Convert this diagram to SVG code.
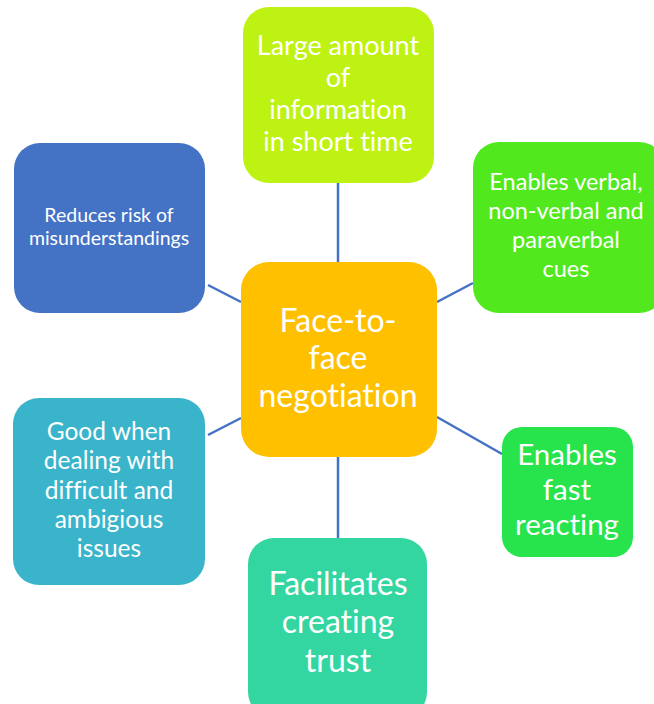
<svg xmlns="http://www.w3.org/2000/svg" width="654" height="704" viewBox="0 0 654 704">
  <style>
    .lbl { font-family: Lato, "Open Sans", "Liberation Sans", sans-serif; fill: #ffffff; text-anchor: middle; font-variant-ligatures: none; }
    .link { stroke: #4472C4; stroke-width: 2.5; fill: none; }
  </style>
  <rect width="654" height="704" fill="#ffffff"/>
  <g id="connectors">
    <line class="link" x1="338" y1="183" x2="338" y2="262"/>
    <line class="link" x1="338" y1="457" x2="338" y2="538"/>
    <line class="link" x1="208" y1="285" x2="241" y2="302"/>
    <line class="link" x1="437" y1="302" x2="473" y2="283"/>
    <line class="link" x1="208" y1="435" x2="241" y2="418"/>
    <line class="link" x1="437" y1="417" x2="502" y2="454"/>
  </g>
  <g id="node-center">
    <rect x="241" y="262" width="196" height="195" rx="28" fill="#FFC000"/>
    <text class="lbl" font-size="32"><tspan x="338" y="332">Face-to-</tspan><tspan x="338" y="369">face</tspan><tspan x="338" y="407">negotiation</tspan></text>
  </g>
  <g id="node-information">
    <rect x="243" y="7" width="191" height="176" rx="26" fill="#BEF212"/>
    <text class="lbl" font-size="27"><tspan x="338" y="55">Large amount</tspan><tspan x="338" y="87">of</tspan><tspan x="338" y="119">information</tspan><tspan x="338" y="151">in short time</tspan></text>
  </g>
  <g id="node-cues">
    <rect x="473" y="142" width="192" height="171" rx="26" fill="#52E81E"/>
    <text class="lbl" font-size="23.5"><tspan x="566" y="190">Enables verbal,</tspan><tspan x="566" y="219">non-verbal and</tspan><tspan x="566" y="248">paraverbal</tspan><tspan x="566" y="277">cues</tspan></text>
  </g>
  <g id="node-misunderstandings">
    <rect x="14" y="143" width="191" height="170" rx="26" fill="#4472C4"/>
    <text class="lbl" font-size="19.5"><tspan x="109" y="222">Reduces risk of</tspan><tspan x="109" y="245">misunderstandings</tspan></text>
  </g>
  <g id="node-difficult">
    <rect x="13" y="398" width="192" height="187" rx="26" fill="#3AB4CB"/>
    <text class="lbl" font-size="24.5"><tspan x="109" y="440">Good when</tspan><tspan x="109" y="469">dealing with</tspan><tspan x="109" y="499">difficult and</tspan><tspan x="109" y="528">ambigious</tspan><tspan x="109" y="557">issues</tspan></text>
  </g>
  <g id="node-reacting">
    <rect x="502" y="427" width="131" height="130" rx="20" fill="#27E34C"/>
    <text class="lbl" font-size="29.5"><tspan x="567" y="465">Enables</tspan><tspan x="567" y="500">fast</tspan><tspan x="567" y="535">reacting</tspan></text>
  </g>
  <g id="node-trust">
    <rect x="248" y="538" width="179" height="180" rx="26" fill="#33D6A0"/>
    <text class="lbl" font-size="32"><tspan x="338" y="595">Facilitates</tspan><tspan x="338" y="633">creating</tspan><tspan x="338" y="672">trust</tspan></text>
  </g>
</svg>
